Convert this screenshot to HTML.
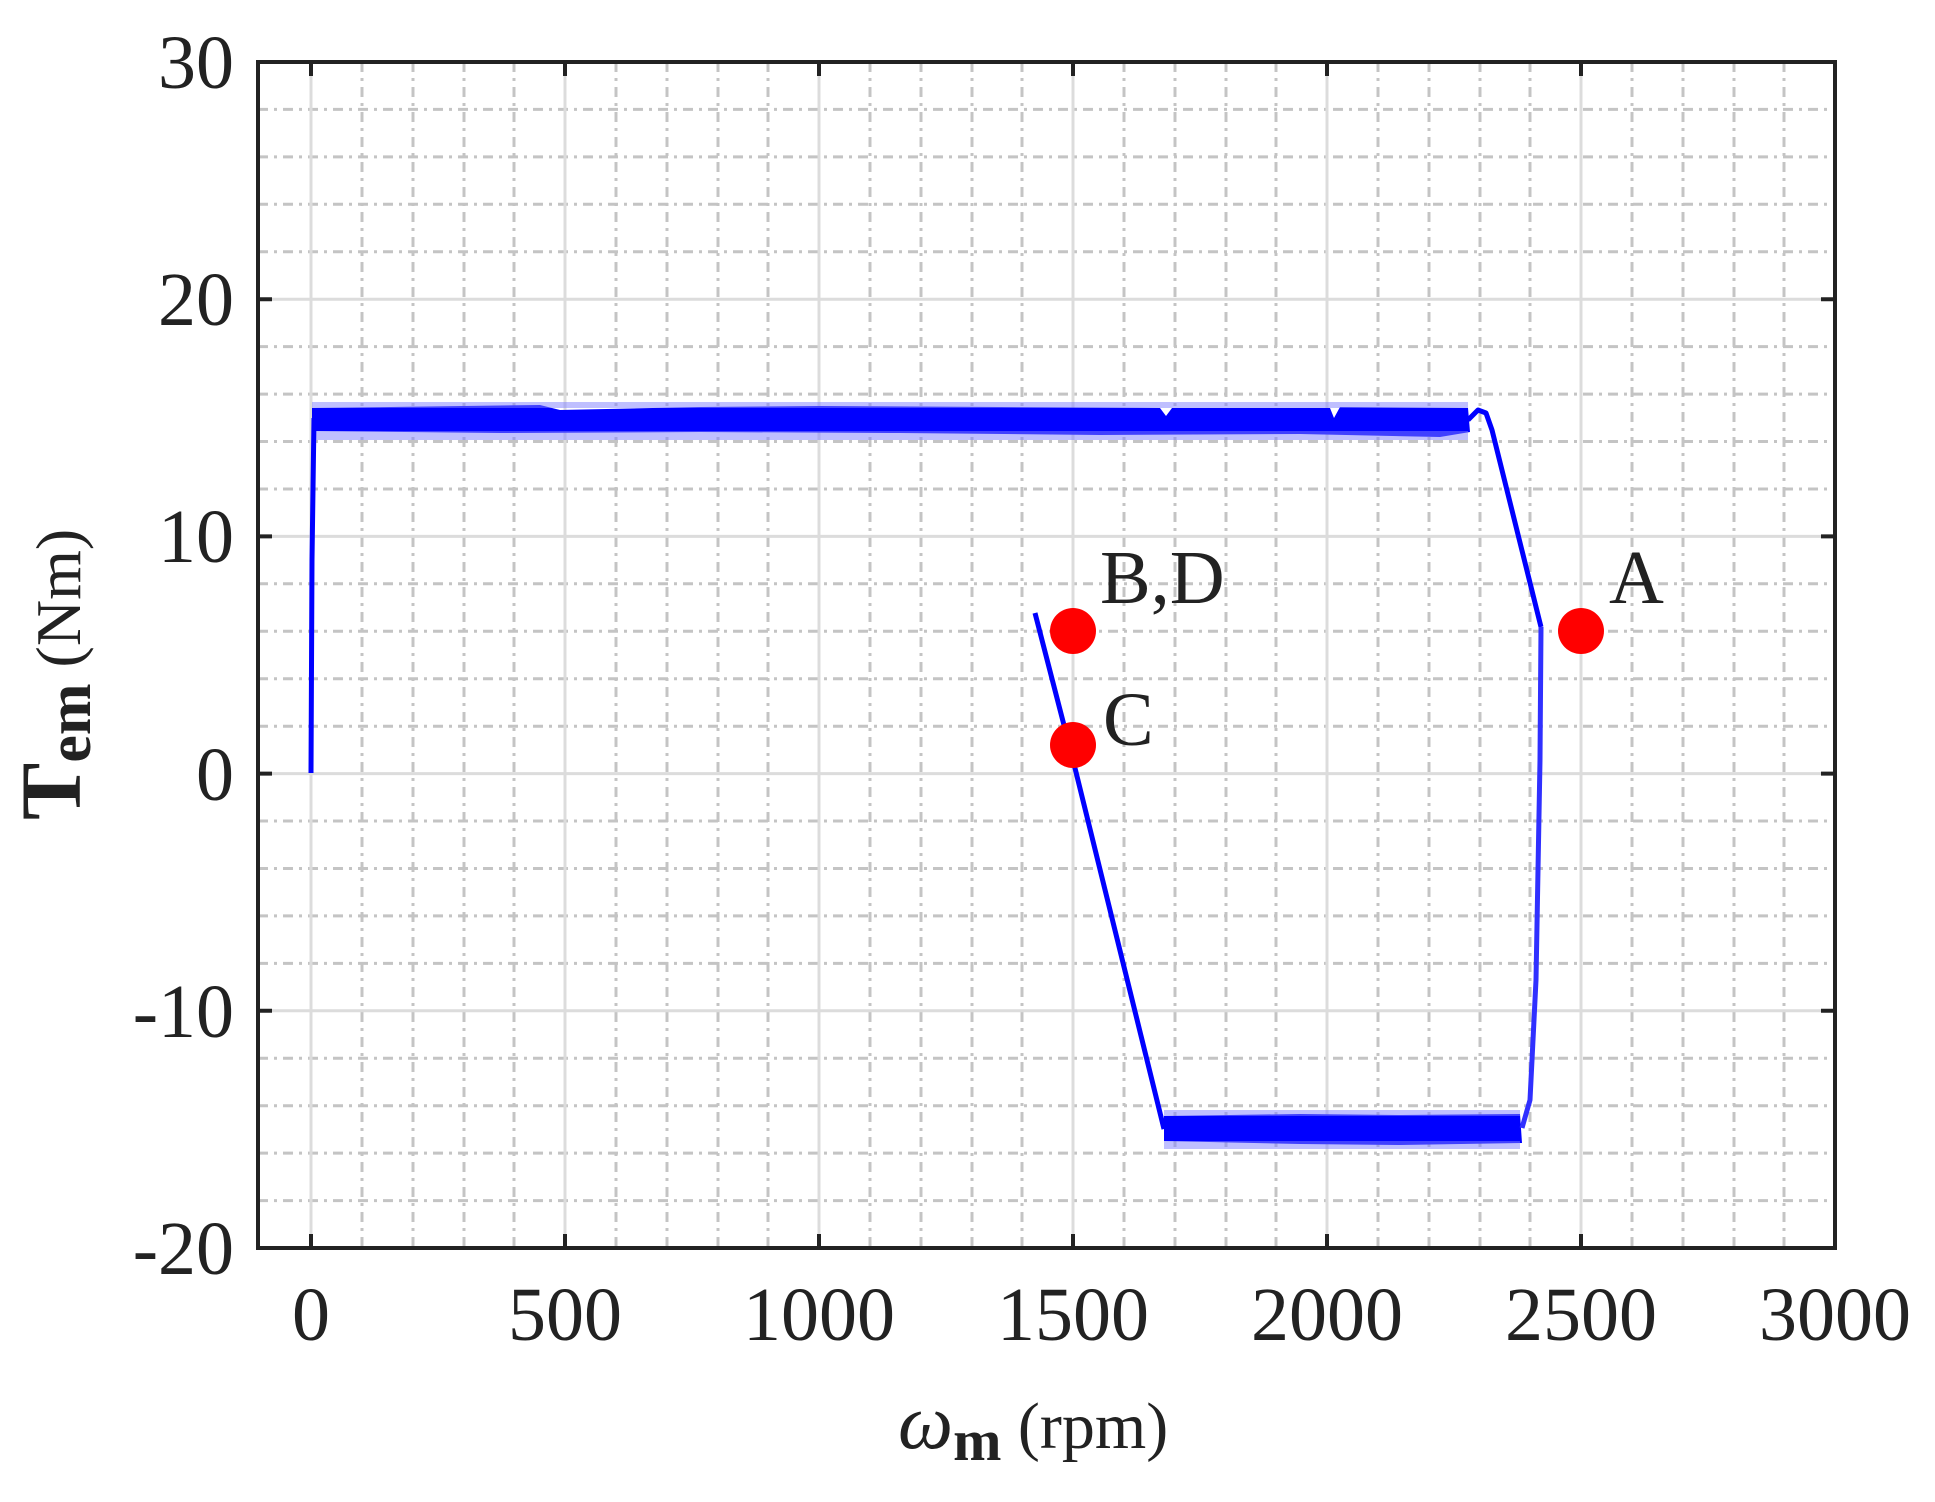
<!DOCTYPE html>
<html><head><meta charset="utf-8"><style>
html,body{margin:0;padding:0;background:#fff;}
svg{display:block;}
text{font-family:"Liberation Serif",serif;fill:#222;}
</style></head><body>
<svg width="1935" height="1502" viewBox="0 0 1935 1502" xmlns="http://www.w3.org/2000/svg">
<rect width="1935" height="1502" fill="#fff"/>
<g stroke="#c4c4c4" stroke-width="3" stroke-dasharray="10,6,3,6" fill="none">
<path d="M362 62V1248M413 62V1248M464 62V1248M514 62V1248M616 62V1248M667 62V1248M718 62V1248M768 62V1248M870 62V1248M921 62V1248M972 62V1248M1022 62V1248M1124 62V1248M1175 62V1248M1226 62V1248M1276 62V1248M1378 62V1248M1429 62V1248M1480 62V1248M1530 62V1248M1632 62V1248M1683 62V1248M1734 62V1248M1784 62V1248"/>
<path d="M258 109.4H1835M258 156.9H1835M258 204.3H1835M258 251.8H1835M258 346.6H1835M258 394.1H1835M258 441.5H1835M258 489H1835M258 583.8H1835M258 631.3H1835M258 678.7H1835M258 726.2H1835M258 821H1835M258 868.5H1835M258 915.9H1835M258 963.4H1835M258 1058.2H1835M258 1105.7H1835M258 1153.1H1835M258 1200.6H1835"/>
</g>
<g stroke="#dcdcdc" stroke-width="3" fill="none">
<path d="M311 62V1248M565 62V1248M819 62V1248M1073 62V1248M1327 62V1248M1581 62V1248"/>
<path d="M258 299.2H1835M258 536.4H1835M258 773.6H1835M258 1010.8H1835"/>
</g>
<g fill="#0000ff" stroke="none">
<path d="M312 408 L540 405 L560 410 L700 407 L820 406 L1000 407 L1160 408 L1166 416 L1172 408 L1330 408 L1334 418 L1340 407 L1468 408 L1470 432 L1440 437 L1300 434 L1100 435 L900 433 L700 432 L500 433 L312 431 Z"/>
<path d="M312 402 H1468 V408 H312Z M312 431 H1468 V440 H312Z" fill="#8080ff" opacity="0.5"/>
<path d="M1164 1116 L1300 1114 L1400 1115 L1520 1114 L1522 1143 L1400 1145 L1300 1144 L1164 1141 Z"/>
<path d="M1164 1110 H1520 V1116 H1164Z M1164 1141 H1520 V1149 H1164Z" fill="#8080ff" opacity="0.5"/>
</g>
<g fill="none" stroke="#0000ff" stroke-width="5" stroke-linejoin="round">
<path d="M311 773 L312 560 L314 418"/>
<path d="M1468 420 L1478 410 L1486 413 L1492 430 L1541 627"/>
<path d="M1035 613 L1073 760 L1164 1129"/>
<path d="M1541 627 L1540 760 L1536 980 L1530 1100 L1522 1128" stroke="#3030ff"/>
</g>
<g fill="#ff0000">
<circle cx="1073" cy="631" r="23"/>
<circle cx="1073" cy="745" r="23"/>
<circle cx="1581" cy="631" r="23"/>
</g>
<g font-size="76">
<text x="1100" y="603">B,D</text>
<text x="1103" y="745">C</text>
<text x="1609" y="603">A</text>
</g>
<rect x="258" y="62" width="1577" height="1186" fill="none" stroke="#222" stroke-width="4"/>
<g stroke="#222" stroke-width="4">
<path d="M311 62v14M565 62v14M819 62v14M1073 62v14M1327 62v14M1581 62v14"/>
<path d="M311 1248v-14M565 1248v-14M819 1248v-14M1073 1248v-14M1327 1248v-14M1581 1248v-14"/>
<path d="M258 299.2h14M258 536.4h14M258 773.6h14M258 1010.8h14"/>
<path d="M1835 299.2h-14M1835 536.4h-14M1835 773.6h-14M1835 1010.8h-14"/>
</g>
<g font-size="76" text-anchor="end">
<text x="234" y="88">30</text>
<text x="234" y="325">20</text>
<text x="234" y="562">10</text>
<text x="234" y="800">0</text>
<text x="234" y="1037">-10</text>
<text x="234" y="1274">-20</text>
</g>
<g font-size="76" text-anchor="middle">
<text x="311" y="1340">0</text>
<text x="565" y="1340">500</text>
<text x="819" y="1340">1000</text>
<text x="1073" y="1340">1500</text>
<text x="1327" y="1340">2000</text>
<text x="1581" y="1340">2500</text>
<text x="1835" y="1340">3000</text>
</g>
<text x="898" y="1448" font-size="78" font-style="italic">ω<tspan font-size="58" font-style="normal" font-weight="bold" dy="12">m</tspan><tspan font-size="66" font-style="normal" dy="-12"> (rpm)</tspan></text>
<text transform="translate(80,820) rotate(-90)" font-size="86" font-weight="bold">T<tspan font-size="62" dy="10">em</tspan><tspan font-size="64" font-weight="normal" dy="-10"> (Nm)</tspan></text>
</svg>
</body></html>
